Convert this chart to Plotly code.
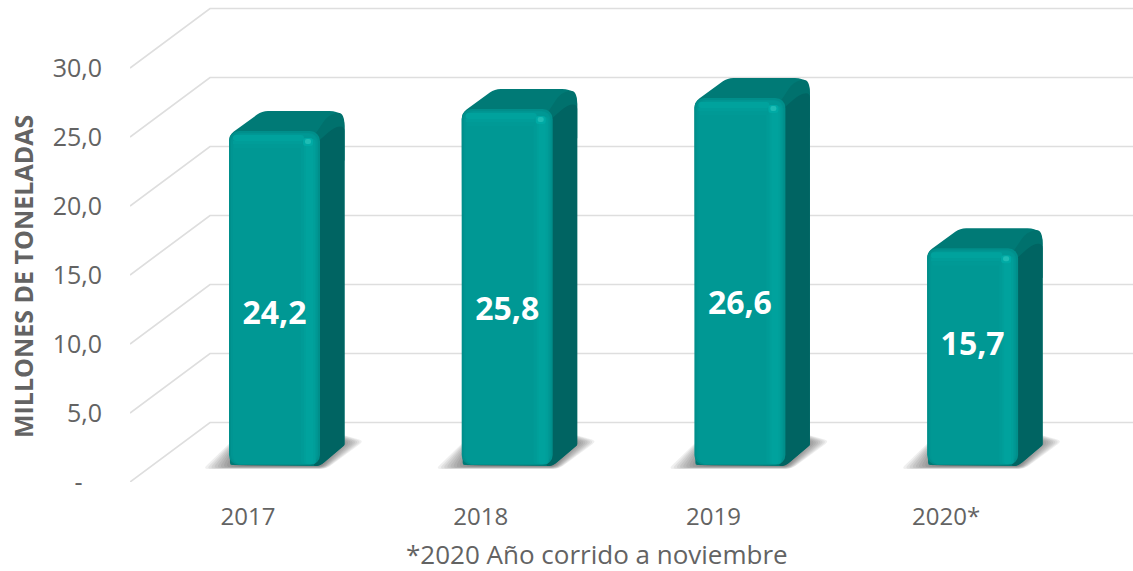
import plotly.graph_objects as go

# ---- data ----
categories = ["2017", "2018", "2019", "2020*"]
values = [24.2, 25.8, 26.6, 15.7]
value_labels = ["24,2", "25,8", "26,6", "15,7"]
y_ticks = [0, 5, 10, 15, 20, 25, 30]
y_tick_labels = ["-\u00a0\u00a0\u00a0", "5,0", "10,0", "15,0", "20,0", "25,0", "30,0"]
label_fraction = [0.447, 0.43, 0.433, 0.545]

# ---- geometry (page pixels <-> axis units) ----
W, H = 1133, 571
PLOT_L, PLOT_B = 130, 482
STEP = 232.7          # px per category
FIRST = 248           # px of first category tick
PPU = 13.8            # px per y unit
BACK_DX, BACK_DY = 80, 59.5   # wall depth
BAR_DX, BAR_DY = 26.5, 17     # bar front plane offset from axis plane
BAR_W = 91
SIDE_DX, SIDE_DY = 24.5, 20
TEXT = "#636363"

def ux(px):
    return (px - FIRST) / STEP

def uy(py):
    return (PLOT_B - py) / PPU

def rounded(pts, r):
    """Closed path with rounded corners; pts = (x, y[, radius]) in page px."""
    n = len(pts)
    d = []
    for i in range(n):
        p0, p1, p2 = pts[i - 1], pts[i], pts[(i + 1) % n]
        rad = p1[2] if len(p1) > 2 else r
        def toward(a, b, dist):
            dx, dy = b[0] - a[0], b[1] - a[1]
            ln = (dx * dx + dy * dy) ** 0.5
            k = min(dist, ln / 2) / ln
            return a[0] + dx * k, a[1] + dy * k
        a = toward(p1, p0, rad)
        b = toward(p1, p2, rad)
        d.append(("M " if i == 0 else "L ") + f"{ux(a[0]):.5f},{uy(a[1]):.5f}")
        d.append(f"Q {ux(p1[0]):.5f},{uy(p1[1]):.5f} {ux(b[0]):.5f},{uy(b[1]):.5f}")
    return " ".join(d) + " Z"

shapes = []
GRID = "#dedede"
for t in y_ticks:
    fy = PLOT_B - t * PPU
    shapes.append(dict(type="path", layer="below", xref="x", yref="y",
                       path=f"M {ux(PLOT_L):.5f},{t} L {ux(PLOT_L + BACK_DX):.5f},{uy(fy - BACK_DY):.5f} L {ux(W + 5):.5f},{uy(fy - BACK_DY):.5f}",
                       line=dict(color=GRID, width=1.7)))

base_py = PLOT_B - BAR_DY
for i, v in enumerate(values):
    L = FIRST + i * STEP + BAR_DX - BAR_W / 2
    R = L + BAR_W
    top = base_py - v * PPU
    # soft floor shadow, nested polygons that shrink toward the bar
    for k in range(16):
        g = (15 - k) * 1.9
        poly = [(L - 26 + g * 1.7, base_py + 4 - g * 0.14), (R + 6 - g * 0.25, base_py + 4 - g * 0.14),
                (R + 44 - g * 1.2, base_py - 24 + g * 0.1), (R + 20, base_py - 31 + g * 0.35),
                (L + 10, base_py - 31 + g * 0.35)]
        shapes.append(dict(type="path", layer="below", xref="x", yref="y", path=rounded(poly, 5),
                           fillcolor="rgba(70,70,70,0.085)", line=dict(width=0)))
    # silhouette of top + side
    shapes.append(dict(type="path", layer="below", xref="x", yref="y",
                       path=rounded([(L, top + 4), (L + 33, top - SIDE_DY, 6),
                                     (R + SIDE_DX, top - SIDE_DY, 15), (R + SIDE_DX, base_py - SIDE_DY, 1),
                                     (R, base_py + 1, 6), (L + 1, base_py, 2)], 6),
                       fillcolor="#007a76", line=dict(width=0)))
    # corner tone then the side face
    shapes.append(dict(type="path", layer="below", xref="x", yref="y",
                       path=rounded([(R - 8, top + 8), (R + 8, top - SIDE_DY + 4, 8),
                                     (R + SIDE_DX, top - SIDE_DY, 15), (R + SIDE_DX, top + 30, 1), (R - 8, top + 30, 1)], 6),
                       fillcolor="#00716d", line=dict(width=0)))
    shapes.append(dict(type="path", layer="below", xref="x", yref="y",
                       path=rounded([(R - 6, top + 14), (R + SIDE_DX - 10, top - 4, 8),
                                     (R + SIDE_DX, top - 5, 5), (R + SIDE_DX, base_py - SIDE_DY, 1),
                                     (R, base_py + 1, 6), (R - 6, base_py + 1, 1)], 6),
                       fillcolor="#006462", line=dict(width=0)))

fig = go.Figure()

bar_x = [i + BAR_DX / STEP for i in range(len(values))]
base_u = BAR_DY / PPU

def face(left, right, top_in, bottom_in, color, radius=0):
    """A vertical band of each front face, offsets in px from the face edges."""
    w = (BAR_W - left - right) / STEP
    xs = [x + (left - right) / 2 / STEP for x in bar_x]
    fig.add_trace(go.Bar(
        x=xs, width=[w] * len(xs),
        base=[base_u + bottom_in / PPU] * len(xs),
        y=[v - (top_in + bottom_in) / PPU for v in values],
        marker=dict(color=color, line=dict(width=0), cornerradius=radius),
        hoverinfo="skip", showlegend=False))

def top_band(left, right, start, height, color, radius=0):
    w = (BAR_W - left - right) / STEP
    xs = [x + (left - right) / 2 / STEP for x in bar_x]
    fig.add_trace(go.Bar(
        x=xs, width=[w] * len(xs),
        base=[base_u + v - (start + height) / PPU for v in values],
        y=[height / PPU] * len(xs),
        marker=dict(color=color, line=dict(width=0), cornerradius=radius),
        hoverinfo="skip", showlegend=False))

face(0, 0, 0, 0, "#008f8b", 10)          # edge tone
face(2, 2, 2, 1, "#009592", 9)
face(4, 3, 3, 1, "#009894", 8)           # face body
face(72, 4, 8, 1, "#009b97", 3)          # right bevel, soft start
face(75, 5, 8, 1, "#009f9a", 3)
face(77, 7, 9, 1, "#00a29d", 3)

top_band(5, 18, 13, 4, "#009a96")
top_band(4, 18, 10, 3, "#009d99")
top_band(4, 16, 4, 6, "#00a29d", 5)
top_band(74, 7, 7, 8, "#00aaa5", 3)
top_band(76, 9, 8, 5, "#1fbdb5", 2)

fig.add_trace(go.Scatter(
    x=bar_x,
    y=[base_u + v * f for v, f in zip(values, label_fraction)],
    text=value_labels, mode="text",
    textfont=dict(family="Open Sans", size=32, color="#ffffff", weight="bold"),
    textposition="middle center", hoverinfo="skip", showlegend=False))

fig.update_layout(
    width=W, height=571, barmode="overlay", showlegend=False,
    margin=dict(l=PLOT_L, r=0, t=0, b=H - PLOT_B, autoexpand=False),
    paper_bgcolor="#ffffff", plot_bgcolor="#ffffff", shapes=shapes,
    font=dict(family="Open Sans", color=TEXT),
    xaxis=dict(range=[ux(PLOT_L), ux(W)], tickmode="array", tickvals=list(range(len(categories))),
               ticktext=categories, showgrid=False, zeroline=False, showline=False,
               ticks="outside", ticklen=13, tickcolor="rgba(0,0,0,0)", automargin=False,
               tickfont=dict(family="Open Sans", size=24, color=TEXT)),
    yaxis=dict(range=[0, uy(0)], tickmode="array", tickvals=y_ticks, ticktext=y_tick_labels,
               showgrid=False, zeroline=False, showline=False,
               ticks="outside", ticklen=22, tickcolor="rgba(0,0,0,0)", automargin=False,
               tickfont=dict(family="Open Sans", size=25, color=TEXT)),
    annotations=[
        dict(text="MILLONES DE TONELADAS", textangle=-90, xref="paper", yref="paper", showarrow=False,
             x=(23 - PLOT_L) / (W - PLOT_L), y=(PLOT_B - 277) / PLOT_B, xanchor="center", yanchor="middle",
             font=dict(family="Open Sans", size=25, color=TEXT, weight="bold")),
        dict(text="*2020 Año corrido a noviembre", xref="paper", yref="paper", showarrow=False,
             x=(597 - PLOT_L) / (W - PLOT_L), y=(PLOT_B - 553.5) / PLOT_B, xanchor="center", yanchor="middle",
             font=dict(family="Open Sans", size=26, color=TEXT)),
    ],
)

fig.write_html("out.html", config=dict(displayModeBar=False),
               post_script="document.body.style.margin='0';document.body.style.overflow='hidden';")
